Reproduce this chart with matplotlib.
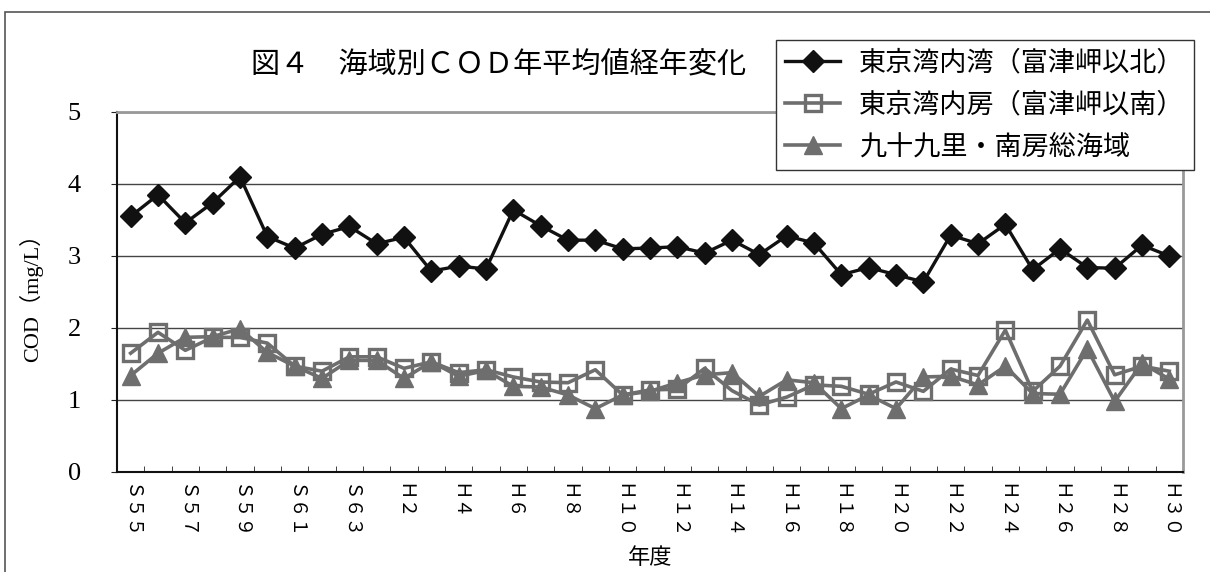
import numpy as np
import matplotlib
matplotlib.use('Agg')
import matplotlib.pyplot as plt
from matplotlib.patches import Rectangle

plt.rcParams['font.family'] = ['Noto Sans CJK JP', 'DejaVu Sans']

# fiscal years S55 .. H30
years = ['S55', 'S56', 'S57', 'S58', 'S59', 'S60', 'S61', 'S62', 'S63',
         'H1', 'H2', 'H3', 'H4', 'H5', 'H6', 'H7', 'H8', 'H9', 'H10',
         'H11', 'H12', 'H13', 'H14', 'H15', 'H16', 'H17', 'H18', 'H19', 'H20',
         'H21', 'H22', 'H23', 'H24', 'H25', 'H26', 'H27', 'H28', 'H29', 'H30']

# 東京湾内湾（富津岬以北）
inner_bay = [3.55, 3.85, 3.46, 3.74, 4.10, 3.27, 3.11, 3.30, 3.41, 3.17,
             3.26, 2.79, 2.86, 2.82, 3.64, 3.42, 3.22, 3.22, 3.10, 3.11,
             3.13, 3.04, 3.22, 3.02, 3.28, 3.18, 2.74, 2.84, 2.74, 2.64,
             3.29, 3.17, 3.44, 2.81, 3.10, 2.84, 2.83, 3.15, 3.00]
# 東京湾内房（富津岬以南）
outer_bay = [1.65, 1.94, 1.69, 1.87, 1.87, 1.79, 1.47, 1.40, 1.60, 1.60,
             1.44, 1.53, 1.38, 1.42, 1.32, 1.25, 1.24, 1.42, 1.07, 1.14,
             1.15, 1.44, 1.13, 0.93, 1.04, 1.21, 1.19, 1.08, 1.25, 1.12,
             1.43, 1.34, 1.97, 1.12, 1.47, 2.11, 1.35, 1.47, 1.40]
# 九十九里・南房総海域
kujukuri = [1.34, 1.65, 1.87, 1.88, 1.99, 1.66, 1.47, 1.30, 1.55, 1.55,
            1.30, 1.53, 1.33, 1.41, 1.19, 1.18, 1.07, 0.88, 1.07, 1.12,
            1.24, 1.35, 1.38, 1.05, 1.28, 1.24, 0.88, 1.07, 0.88, 1.32,
            1.33, 1.21, 1.47, 1.09, 1.08, 1.71, 0.98, 1.51, 1.29]

names = ['東京湾内湾（富津岬以北）', '東京湾内房（富津岬以南）', '九十九里・南房総海域']

# full-width labels like the original
zen = str.maketrans('SH0123456789', 'ＳＨ０１２３４５６７８９')
labels = [y.translate(zen) for y in years]

W, H = 1210, 572
fig = plt.figure(figsize=(W / 100, H / 100), dpi=100)
ax = fig.add_axes([117 / W, 1 - 472 / H, (1183 - 117) / W, (472 - 112) / H])

x = np.arange(len(years))
gray = '#6e6e6e'
ax.plot(x, outer_bay, color=gray, lw=2.6, marker='s', ms=12, mfc='none',
        mec=gray, mew=2.4, label=names[1], zorder=3)
ax.plot(x, kujukuri, color=gray, lw=2.6, marker='^', ms=13, mfc=gray,
        mec=gray, label=names[2], zorder=4)
ax.plot(x, inner_bay, color='#111111', lw=2.4, marker='D', ms=11.5,
        mfc='#111111', mec='#111111', label=names[0], zorder=5)

ax.set_xlim(-0.5, len(years) - 0.5)
ax.set_ylim(0, 5)
ax.set_yticks(range(6))
ax.set_yticklabels([str(v) for v in range(6)], family='Liberation Serif', fontsize=19)
ax.tick_params(axis='y', direction='out', length=4, pad=22, color='#222')
ax.yaxis.grid(True, color='#444444', lw=1)
ax.set_axisbelow(True)

ax.set_xticks(x[::2])
ax.set_xticklabels(labels[::2], rotation=-90, fontsize=13.5, va='top', ha='center')
ax.set_xticks(np.arange(-0.5, len(years)), minor=True)
ax.tick_params(axis='x', which='major', length=0, pad=8)
ax.tick_params(axis='x', which='minor', direction='in', length=4, color='#222')

for s in ['left', 'bottom']:
    ax.spines[s].set_color('#111111')
    ax.spines[s].set_linewidth(1.5)
for s in ['top', 'right']:
    ax.spines[s].set_color('#999999')
    ax.spines[s].set_linewidth(2)

ax.set_ylabel('COD（mg/L）', family=['Liberation Serif', 'Noto Sans CJK JP'], fontsize=16)
ax.yaxis.set_label_coords((43 - 117) / (1183 - 117), 0.5)
ax.set_xlabel('年度', fontsize=16)
ax.xaxis.set_label_coords(0.5, (472 - 557) / (472 - 112))
ax.xaxis.label.set_va('center')

fig.text(499 / W, 1 - 65 / H, '図４　海域別ＣＯＤ年平均値経年変化', fontsize=21,
         ha='center', va='center')

h, l = ax.get_legend_handles_labels()
order = [2, 0, 1]
leg = ax.legend([h[i] for i in order], [l[i] for i in order],
                loc='upper left', bbox_to_anchor=(776 / W, 1 - 40 / H),
                bbox_transform=fig.transFigure, fontsize=19.5, frameon=True,
                fancybox=False, framealpha=1, edgecolor='#333333',
                handlelength=2.0, handletextpad=0.7, labelspacing=0.55,
                borderpad=0.35, borderaxespad=0)
leg.get_frame().set_linewidth(1)
leg.set_zorder(10)

fig.patches.append(Rectangle((5 / W, -0.1), 1.2, 1 - 12 / H + 0.1, transform=fig.transFigure,
                             fill=False, edgecolor='#555555', lw=1.2))

fig.savefig('out.png', dpi=100)
